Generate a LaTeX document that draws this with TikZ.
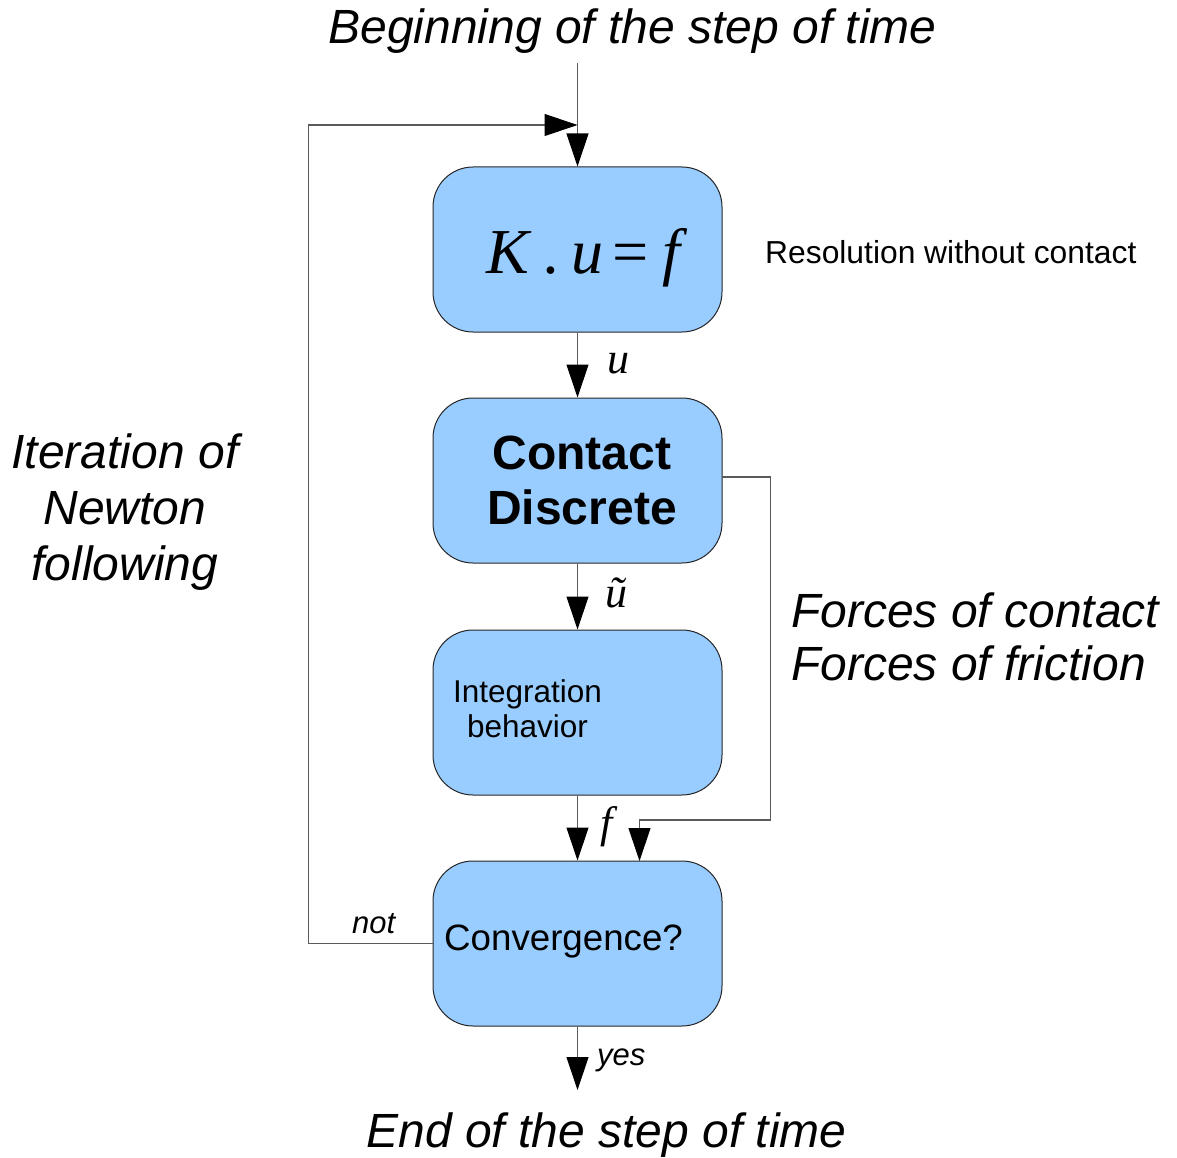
\documentclass[tikz,border=0pt]{standalone}
\usepackage{fontspec}
\setmainfont{Liberation Sans}
\newfontfamily\mathserif{Liberation Serif}
\usetikzlibrary{arrows.meta}
\definecolor{boxblue}{RGB}{153,204,255}
\definecolor{linegray}{RGB}{90,90,90}
\begin{document}
\begin{tikzpicture}[x=1pt,y=-1pt,
  box/.style={draw=black!85, fill=boxblue, rounded corners=40pt, minimum width=289pt, minimum height=165pt, line width=1pt, inner sep=0pt},
  conn/.style={draw=linegray, line width=1.1pt, -{Triangle[length=33pt,width=22pt,black]}},
  txt/.style={inner sep=0pt, anchor=base},
  txtw/.style={inner sep=0pt, anchor=base west},
  bigit/.style={font=\fontsize{48}{55}\selectfont\itshape},
  smallit/.style={font=\fontsize{31}{36}\selectfont\itshape},
  lbl/.style={font=\fontsize{44}{50}\selectfont\mathserif\itshape},
]
\useasboundingbox (0,0) rectangle (1177,1158);

% boxes
\node[box] (b1) at (577.5,249.5) {};
\node[box] (b2) at (577.5,480.5) {};
\node[box] (b3) at (577.5,712.5) {};
\node[box] (b4) at (577.5,943.5) {};

% box texts
\node[txt, font=\fontsize{64}{68}\selectfont\mathserif\itshape] (eq) at (583,273) {K\hspace{16pt}.\hspace{11pt}u\hspace{5pt}=\hspace{10pt}f};
\node[txt, font=\fontsize{48}{55}\selectfont\bfseries] (cd) at (582,469)
  {\setlength\tabcolsep{0pt}\begin{tabular}[t]{c}Contact\\Discrete\end{tabular}};
\node[txt, font=\fontsize{31.5}{35.5}\selectfont] (ib) at (527.5,702)
  {\setlength\tabcolsep{0pt}\begin{tabular}[t]{c}Integration\\behavior\end{tabular}};
\node[txtw, font=\fontsize{36.7}{40}\selectfont] (cv) at (444,950) {Convergence?};

% outer texts
\node[txt, bigit] (begin) at (632.5,44) {Beginning of the step of time};
\node[txt, bigit] (endt) at (606.5,1147) {End of the step of time};
\node[txtw, font=\fontsize{31.8}{36}\selectfont] (res) at (765,263) {Resolution without contact};
\node[txt, font=\fontsize{48}{56}\selectfont\itshape] (iter) at (125,468)
  {\setlength\tabcolsep{0pt}\begin{tabular}[t]{c}Iteration of\\Newton\\following\end{tabular}};
\node[txtw, font=\fontsize{48}{53}\selectfont\itshape] (forces) at (791,627)
  {\setlength\tabcolsep{0pt}\begin{tabular}[t]{l}Forces of contact\\Forces of friction\end{tabular}};

% connector labels
\node[txtw, lbl] (lu) at (607,373) {u};
\node[txtw, lbl] (lut) at (605,607) {ũ};
\node[txtw, lbl] (lf) at (600,837) {f};
\node[txtw, smallit] (lnot) at (352,933) {not};
\node[txtw, smallit] (lyes) at (597,1065) {yes};

% coordinates
\coordinate (start) at (577.5,63);
\coordinate (merge) at (577.5,125);
\coordinate (b2out) at (722,477);
\coordinate (rt) at (770.5,820);
\coordinate (kink) at (639.5,820);
\coordinate (b4in) at (639.5,861);
\coordinate (endpt) at (577.5,1090);

% connectors
\draw[conn] (start) -- (b1.north);
\draw[conn] (b4.west) -- ++(-124,0) |- (merge);
\draw[conn] (b1.south) -- (b2.north);
\draw[conn] (b2.south) -- (b3.north);
\draw[conn] (b3.south) -- (b4.north);
\draw[conn] (b2out) -| (rt) -- (kink) -- (b4in);
\draw[conn] (b4.south) -- (endpt);
\end{tikzpicture}
\end{document}
